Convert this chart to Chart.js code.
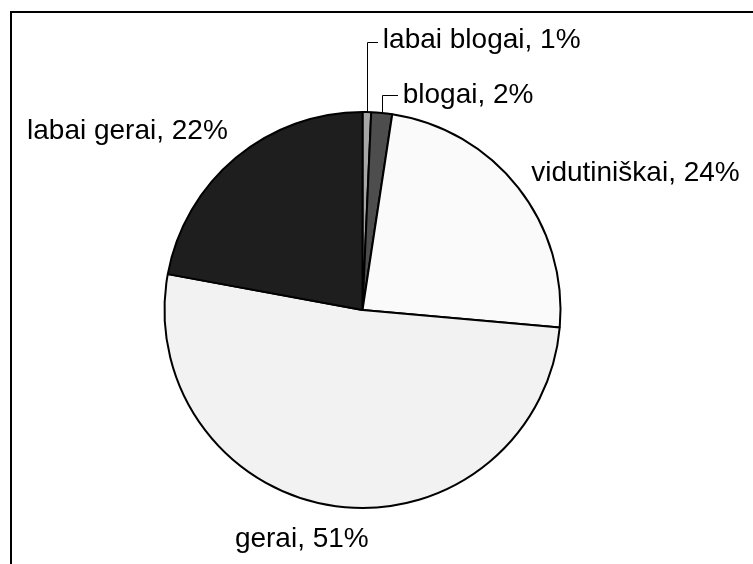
<!DOCTYPE html>
<html>
<head>
<meta charset="utf-8">
<script src="https://cdn.jsdelivr.net/npm/chart.js@4"></script>
<style>
    html, body { margin: 0; padding: 0; background: #fff; }
    #wrap { width: 753px; height: 564px; }
</style>
</head>
<body>
<div id="wrap"><canvas id="pieChart" width="753" height="564"></canvas></div>
<script>
// Chart data
const categories = ['labai blogai', 'blogai', 'vidutiniškai', 'gerai', 'labai gerai'];
const values = [0.7, 1.7, 24.0, 51.5, 22.1];
const shownPercents = [1, 2, 24, 51, 22];
const sliceColors = ['#a6a6a6', '#4d4d4d', '#fafafa', '#f2f2f2', '#1e1e1e'];

// Label placement relative to each slice's outer mid point
// lead: leader line goes up to y offset, then right by hx
const labelPlacement = [
    { dx: 16, dy: -64, align: 'left', lead: { up: -70, hx: 11 } },
    { dx: 21, dy: -10, align: 'left', lead: { up: -18, hx: 16 } },
    { dx: 13, dy: -7, align: 'left' },
    { dx: -34, dy: 41, align: 'center' },
    { dx: -8, dy: -19, align: 'right' }
];

// Frame around the chart
const framePlugin = {
    id: 'frame',
    beforeDraw(chart) {
        const ctx = chart.ctx;
        ctx.save();
        ctx.strokeStyle = '#000';
        ctx.lineWidth = 2;
        ctx.strokeRect(11, 12, 800, 600);
        ctx.restore();
    }
};

// Outside labels with leader lines
const labelPlugin = {
    id: 'outsideLabels',
    afterDatasetsDraw(chart) {
        const ctx = chart.ctx;
        const arcs = chart.getDatasetMeta(0).data;
        ctx.save();
        ctx.font = '28px "Liberation Sans", Arial, sans-serif';
        ctx.fillStyle = '#000';
        ctx.textBaseline = 'alphabetic';
        arcs.forEach((arc, i) => {
            const p = arc.getProps(['x', 'y', 'startAngle', 'endAngle', 'outerRadius'], true);
            const mid = (p.startAngle + p.endAngle) / 2;
            const ax = p.x + Math.cos(mid) * p.outerRadius;
            const ay = p.y + Math.sin(mid) * p.outerRadius;
            const place = labelPlacement[i];
            if (place.lead) {
                const topY = ay + place.lead.up;
                ctx.beginPath();
                ctx.strokeStyle = '#000';
                ctx.lineWidth = 1;
                ctx.moveTo(Math.round(ax) + 0.5, ay);
                ctx.lineTo(Math.round(ax) + 0.5, Math.round(topY) + 0.5);
                ctx.lineTo(Math.round(ax) + place.lead.hx, Math.round(topY) + 0.5);
                ctx.stroke();
            }
            ctx.textAlign = place.align;
            ctx.fillText(categories[i] + ', ' + shownPercents[i] + '%', ax + place.dx, ay + place.dy);
        });
        ctx.restore();
    }
};

new Chart(document.getElementById('pieChart'), {
    type: 'pie',
    data: {
        labels: categories,
        datasets: [{
            data: values,
            backgroundColor: sliceColors,
            borderColor: '#000',
            borderWidth: 2
        }]
    },
    options: {
        responsive: false,
        animation: false,
        layout: {
            padding: { left: 163.5, right: 191.5, top: 111, bottom: 55 }
        },
        plugins: {
            legend: { display: false },
            tooltip: { enabled: false }
        }
    },
    plugins: [framePlugin, labelPlugin]
});
</script>
</body>
</html>
